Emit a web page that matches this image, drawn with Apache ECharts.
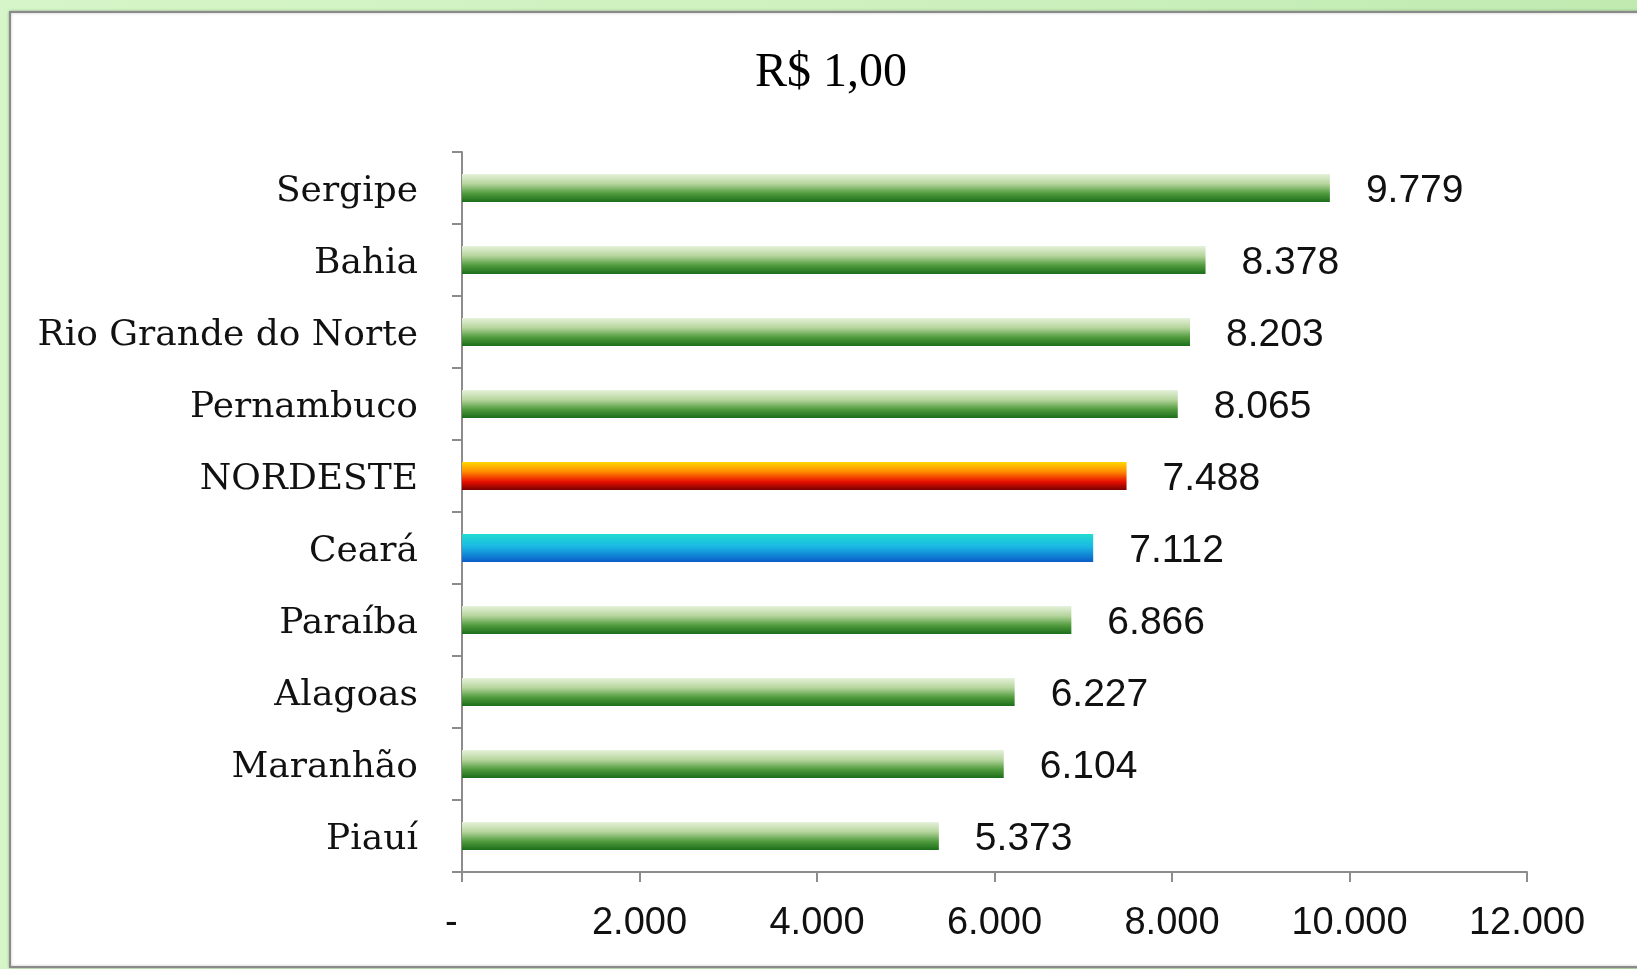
<!DOCTYPE html>
<html lang="pt-BR" style="height: 100%">
<head>
  <meta charset="utf-8">
</head>
<body style="height: 100%; margin: 0; background: linear-gradient(90deg, #d6f5c8 0%, #ccf0bd 60%, #bfeab0 100%);">
  <div id="container" style="height: 100%"></div>

  <script type="text/javascript" src="https://cdn.jsdelivr.net/npm/echarts@6/dist/echarts.min.js"></script>
  <script type="text/javascript">
    // dados (de cima para baixo)
    var estados = ['Sergipe', 'Bahia', 'Rio Grande do Norte', 'Pernambuco', 'NORDESTE', 'Ceará', 'Paraíba', 'Alagoas', 'Maranhão', 'Piauí'];
    var valores = [9779, 8378, 8203, 8065, 7488, 7112, 6866, 6227, 6104, 5373];
    var titulo = 'R$ 1,00';

    var dom = document.getElementById('container');
    var myChart = echarts.init(dom, null, { renderer: 'canvas' });

    function fmt(v) {
      if (v === 0) return '-  ';
      return String(v).replace(/\B(?=(\d{3})+(?!\d))/g, '.');
    }

    function grad(stops) {
      return new echarts.graphic.LinearGradient(0, 0, 0, 1, stops.map(function (s) {
        return { offset: s[0], color: s[1] };
      }));
    }

    var verde = grad([[0, '#e6f2dc'], [0.35, '#b5d59c'], [0.7, '#4f9a3c'], [1, '#1c6e1a']]);
    var vermelho = grad([[0, '#ffd800'], [0.35, '#ff8a00'], [0.7, '#e81000'], [1, '#780000']]);
    var azul = grad([[0, '#22dcd0'], [0.45, '#1ab8e4'], [1, '#0a5cc8']]);

    var dados = valores.map(function (v, i) {
      var cor = verde;
      if (estados[i] === 'NORDESTE') cor = vermelho;
      if (estados[i] === 'Ceará') cor = azul;
      return { value: v, itemStyle: { color: cor } };
    });

    var option = {
      backgroundColor: 'transparent',
      animation: false,
      graphic: [{
        type: 'rect',
        z: -10,
        shape: { x: 10, y: 12, width: 1640, height: 955 },
        style: { fill: '#ffffff', stroke: '#8a8a8a', lineWidth: 2, shadowBlur: 3, shadowColor: 'rgba(0,0,0,0.25)' }
      }],
      title: {
        text: titulo,
        left: 826,
        top: 44,
        textAlign: 'center',
        textStyle: { fontFamily: 'Liberation Serif', fontSize: 48, fontWeight: 'normal', color: '#000' }
      },
      grid: { left: 462, right: 110, top: 152, bottom: 97 },
      xAxis: {
        type: 'value',
        min: 0,
        max: 12000,
        interval: 2000,
        splitLine: { show: false },
        axisLine: { show: true, lineStyle: { color: '#8c8c8c', width: 2 } },
        axisTick: { show: true, length: 10, lineStyle: { color: '#8c8c8c', width: 2 } },
        axisLabel: {
          formatter: fmt,
          margin: 33,
          fontFamily: 'Liberation Sans',
          fontSize: 38,
          color: '#111'
        }
      },
      yAxis: {
        type: 'category',
        data: estados,
        inverse: true,
        axisLine: { show: true, lineStyle: { color: '#8c8c8c', width: 2 } },
        axisTick: { show: true, length: 10, lineStyle: { color: '#8c8c8c', width: 2 } },
        axisLabel: {
          margin: 44,
          formatter: function (v) { return '{n|' + v + '}'; },
          rich: {
            n: {
              fontFamily: 'DejaVu Serif',
              fontSize: 36,
              color: '#111',
              padding: [8, 0, 0, 0]
            }
          }
        }
      },
      series: [{
        type: 'bar',
        data: dados,
        barWidth: 28,
        label: {
          show: true,
          position: 'right',
          distance: 36,
          offset: [0, 3],
          formatter: function (p) { return fmt(p.value); },
          fontFamily: 'Liberation Sans',
          fontSize: 39,
          color: '#111'
        }
      }]
    };

    myChart.setOption(option);
    window.addEventListener('resize', myChart.resize);
  </script>
</body>
</html>
